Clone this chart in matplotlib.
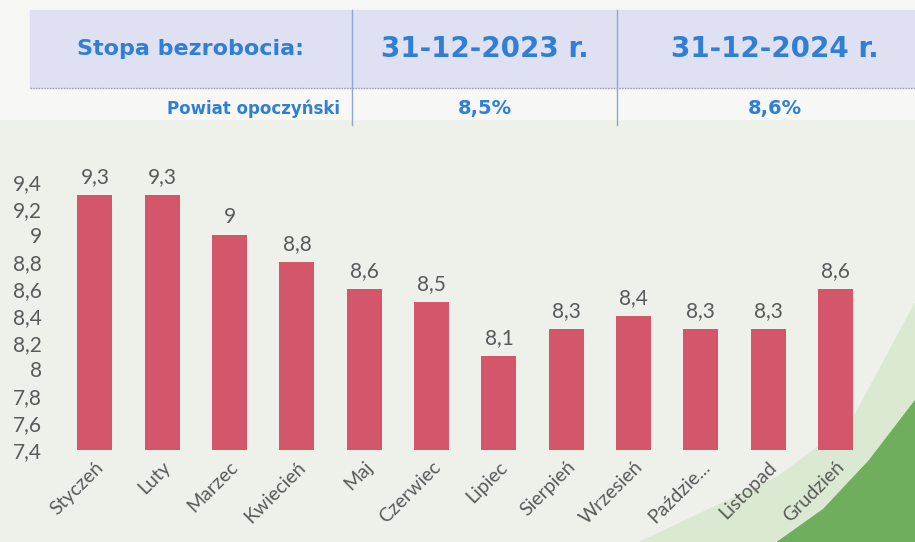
import matplotlib.pyplot as plt
from matplotlib.patches import Rectangle, Polygon

months = ["Styczeń", "Luty", "Marzec", "Kwiecień", "Maj", "Czerwiec",
          "Lipiec", "Sierpień", "Wrzesień", "Paździe...", "Listopad", "Grudzień"]
values = [9.3, 9.3, 9.0, 8.8, 8.6, 8.5, 8.1, 8.3, 8.4, 8.3, 8.3, 8.6]
yticks = [7.4, 7.6, 7.8, 8.0, 8.2, 8.4, 8.6, 8.8, 9.0, 9.2, 9.4]

header_cols = ["Stopa bezrobocia:", "31-12-2023 r.", "31-12-2024 r."]
row_label = "Powiat opoczyński"
row_values = ["8,5%", "8,6%"]


def fmt(v):
    s = f"{v:.1f}".replace(".", ",")
    return s[:-2] if s.endswith(",0") else s


plt.rcParams['font.family'] = ['Lato', 'DejaVu Sans']

fig = plt.figure(figsize=(9.15, 5.42), dpi=100)
fig.patch.set_facecolor("#eef0ea")

# background decoration
fig.patches.append(Rectangle((0, 0.78), 1, 0.22, transform=fig.transFigure,
                             color="#f7f7f5", zorder=-3))
fig.patches.append(Polygon([(0.70, 0), (1, 0), (1, 0.44), (0.93, 0.22), (0.85, 0.12)],
                           closed=True, transform=fig.transFigure,
                           color="#dbe8d2", zorder=-2))
fig.patches.append(Polygon([(0.85, 0), (1, 0), (1, 0.26), (0.95, 0.15), (0.9, 0.06)],
                           closed=True, transform=fig.transFigure,
                           color="#6fae5c", zorder=-1))

# header table
blue = "#2f7fd6"
fig.patches.append(Rectangle((0.033, 0.838), 0.967, 0.143, transform=fig.transFigure,
                             color="#dfe0f1", zorder=0))
fig.add_artist(plt.Line2D([0.033, 1], [0.838, 0.838], transform=fig.transFigure,
                          color="#9a9aa8", lw=1, ls=(0, (1, 1))))
for xv in (0.385, 0.674):
    fig.add_artist(plt.Line2D([xv, xv], [0.77, 0.981], transform=fig.transFigure,
                              color="#8aa7d6", lw=1))
fig.text(0.208, 0.91, header_cols[0], color=blue, fontsize=16, fontweight="bold",
         ha="center", va="center", family=["DejaVu Sans"])
fig.text(0.53, 0.91, header_cols[1], color=blue, fontsize=20, fontweight="bold",
         ha="center", va="center", family=["DejaVu Sans"])
fig.text(0.847, 0.91, header_cols[2], color=blue, fontsize=20, fontweight="bold",
         ha="center", va="center", family=["DejaVu Sans"])
fig.text(0.372, 0.8, row_label, color=blue, fontsize=12, fontweight="bold",
         ha="right", va="center", family=["DejaVu Sans"])
fig.text(0.53, 0.8, row_values[0], color=blue, fontsize=14, fontweight="bold",
         ha="center", va="center", family=["DejaVu Sans"])
fig.text(0.847, 0.8, row_values[1], color=blue, fontsize=14, fontweight="bold",
         ha="center", va="center", family=["DejaVu Sans"])

# bar chart
ax = fig.add_axes([0.067, 0.17, 0.883, 0.4945])
ax.set_facecolor("none")
x = range(len(months))
ax.bar(x, values, width=0.52, color="#d4566a", zorder=2)
for xi, v in zip(x, values):
    ax.text(xi, v + 0.06, fmt(v), ha="center", va="bottom", fontsize=15, color="#5a5a5a")

ax.set_ylim(7.4, 9.4)
ax.set_xlim(-0.5, len(months) - 0.5)
ax.set_yticks(yticks)
ax.set_yticklabels([fmt(t) for t in yticks], fontsize=15, color="#5a5a5a")
ax.set_xticks(list(x))
ax.set_xticklabels(months, rotation=45, ha="right", rotation_mode="anchor",
                   fontsize=14, color="#5a5a5a")
ax.tick_params(axis="y", length=0, pad=14)
ax.tick_params(axis="x", length=0, pad=6)
for s in ax.spines.values():
    s.set_visible(False)

fig.savefig("out.png", dpi=100, facecolor=fig.get_facecolor())
